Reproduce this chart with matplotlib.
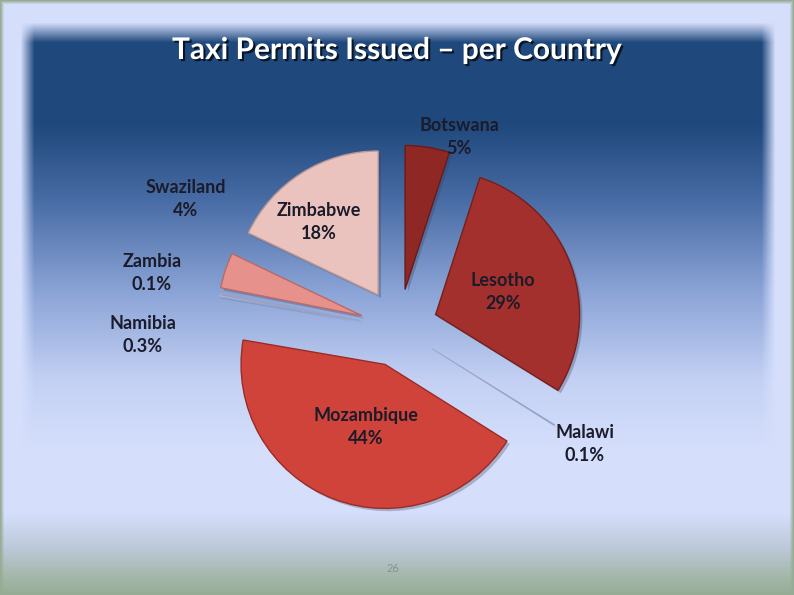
import numpy as np
import matplotlib
matplotlib.use("Agg")
import matplotlib.pyplot as plt
import matplotlib.patheffects as pe

# ---- data ----
title = "Taxi Permits Issued – per Country"
countries = ["Botswana", "Lesotho", "Malawi", "Mozambique", "Namibia", "Zambia", "Swaziland", "Zimbabwe"]
shares = [5, 29, 0.1, 44, 0.3, 0.1, 4, 18]
page_number = "26"

# ---- style ----
colors = ["#8f2724", "#a3302c", "#aab4d4", "#d0433a", "#aab4d4", "#aab4d4", "#e6918c", "#eac3bf"]
edges = ["#6a1a18", "#761f1c", "#98a3c6", "#9a2c26", "#98a3c6", "#98a3c6", "#b96a66", "#b99591"]
thin = [False, False, True, False, True, True, False, False]
label_pos = [(459, 137), (503, 292), (585, 444), (366, 427), (143, 335), (152, 273), (186, 199), (319, 222)]

W, H = 794, 595
fig = plt.figure(figsize=(W / 100, H / 100), dpi=100)
ax = fig.add_axes([0, 0, 1, 1])

# ---- background (slide) ----
yy = np.arange(H)[:, None].astype(float)
xx = np.arange(W)[None, :].astype(float)
L = np.array([213, 223, 252], float)
ys = [0, 125, 200, 290, 380, 450, H]
cs = np.array([[31, 72, 124], [32, 73, 125], [72, 108, 165], [138, 163, 214],
               [196, 209, 244], [213, 223, 252], [213, 223, 252]], float)
P = np.stack([np.interp(yy[:, 0], ys, cs[:, k]) for k in range(3)], axis=1)[:, None, :]
w = (np.clip((xx - 20) / 14, 0, 1) * np.clip((775 - xx) / 14, 0, 1) * np.clip((yy - 22) / 20, 0, 1))[..., None]
img = L * (1 - w) + P * w
bys = [0, 512, 545, 575, H]
bcs = np.array([[213, 223, 252], [213, 223, 252], [190, 202, 220], [165, 184, 172], [150, 172, 148]], float)
B = np.stack([np.interp(yy[:, 0], bys, bcs[:, k]) for k in range(3)], axis=1)[:, None, :]
bm = (yy[:, 0] > 512)[:, None, None]
img = np.where(bm, np.broadcast_to(B, img.shape), img)
G = np.array([150, 172, 148], float)
bw = np.clip(1 - np.minimum.reduce([xx + 0 * yy, (W - 1 - xx) + 0 * yy, yy + 0 * xx]) / 4, 0, 1)[..., None]
img = img * (1 - bw) + G * bw
ax.imshow(img.astype(np.uint8), extent=(0, W, 0, H), origin="upper", zorder=0, aspect="auto")

# ---- pie ----
cx, cy = 399, H - 328
r = 144
explode = [39] * len(shares)
wedges, _ = ax.pie(shares, explode=explode, colors=colors, startangle=90, counterclock=False,
                   center=(cx, cy), radius=r, frame=True,
                   wedgeprops=dict(linewidth=1.0))
for wd, ec, t in zip(wedges, edges, thin):
    wd.set_edgecolor(ec)
    wd.set_zorder(3)
    if t:
        wd.set_linewidth(0.6)
        wd.set_path_effects([pe.SimplePatchShadow(offset=(1.5, -1.5), shadow_rgbFace="#33405e", alpha=0.15), pe.Normal()])
    else:
        wd.set_path_effects([pe.SimplePatchShadow(offset=(2, -2), shadow_rgbFace="#33405e", alpha=0.3), pe.Normal()])

lab_font = dict(family=["Lato", "DejaVu Sans"], fontsize=13, fontweight="bold", color="#1b1b2a",
                ha="center", va="center", linespacing=1.45, zorder=5)
for name, v, (px, py) in zip(countries, shares, label_pos):
    ax.text(px, H - py, f"{name}\n{v:g}%", **lab_font)

ax.text(397, H - 50, title, family=["Lato", "DejaVu Sans"], fontsize=21.5, fontweight="bold", color="white",
        ha="center", va="center", zorder=6,
        path_effects=[pe.SimplePatchShadow(offset=(1.5, -1.5), shadow_rgbFace="black", alpha=0.7), pe.Normal()])
ax.text(393, H - 568, page_number, family=["Lato", "DejaVu Sans"], fontsize=8, color="#8a8f98",
        ha="center", va="center", zorder=6)

ax.set_xlim(0, W)
ax.set_ylim(0, H)
ax.set_aspect("auto")
ax.axis("off")
fig.savefig("out.png", dpi=100)
